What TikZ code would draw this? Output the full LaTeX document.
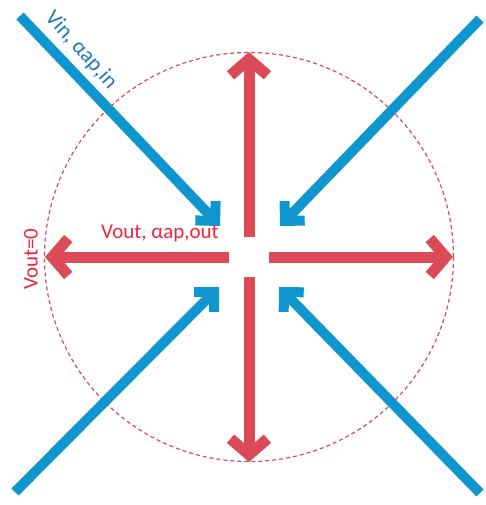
\documentclass[tikz,border=0pt]{standalone}
\usepackage{fontspec}
\setmainfont{Carlito}
\usetikzlibrary{arrows.meta}

\definecolor{inblue}{RGB}{16,150,206}
\definecolor{inbluetext}{RGB}{36,120,190}
\definecolor{outred}{RGB}{218,74,87}
\definecolor{outredtext}{RGB}{240,36,60}

\begin{document}
\begin{tikzpicture}[x=1pt, y=-1pt, line join=miter,
    inarrow/.style={draw=inblue, line width=10pt, -{Straight Barb[length=14pt, width=28pt]}},
    outarrow/.style={draw=outred, line width=11pt, -{Straight Barb[length=16pt, width=37pt]}},
    lbl/.style={font=\fontsize{21}{21}\selectfont, inner sep=0pt}]
    \useasboundingbox (0,0) rectangle (486,505);

    % 中心与圆
    \coordinate (O) at (249,257);
    \draw[outred, line width=1.2pt, dash pattern=on 4pt off 3pt] (O) circle (204.5);

    % 向外的箭头（红）
    \coordinate (U0) at (249,237);  \coordinate (U) at (249,52);
    \coordinate (D0) at (249,277);  \coordinate (D) at (249,462);
    \coordinate (L0) at (229,257);  \coordinate (L) at (45,257);
    \coordinate (R0) at (269,257);  \coordinate (R) at (453,257);
    \draw[outarrow] (U0) -- (U);
    \draw[outarrow] (D0) -- (D);
    \draw[outarrow] (L0) -- (L);
    \draw[outarrow] (R0) -- (R);

    % 向内的箭头（蓝）
    \coordinate (A) at (20,16);   \coordinate (A1) at (220,226);
    \coordinate (B) at (480,19);  \coordinate (B1) at (280,226);
    \coordinate (C) at (15,492);  \coordinate (C1) at (219,287);
    \coordinate (E) at (480,493); \coordinate (E1) at (279,287);
    \draw[inarrow] (A) -- (A1);
    \draw[inarrow] (B) -- (B1);
    \draw[inarrow] (C) -- (C1);
    \draw[inarrow] (E) -- (E1);

    % 标注
    \node[lbl, text=inbluetext, rotate=-48, font=\fontsize{22}{22}\selectfont] (vin) at (81,50) {Vin, αap,in};
    \node[lbl, text=outredtext] (vout) at (160,233) {Vout, αap,out};
    \node[lbl, text=outredtext, rotate=90] (vzero) at (31,259) {Vout=0};
\end{tikzpicture}
\end{document}
